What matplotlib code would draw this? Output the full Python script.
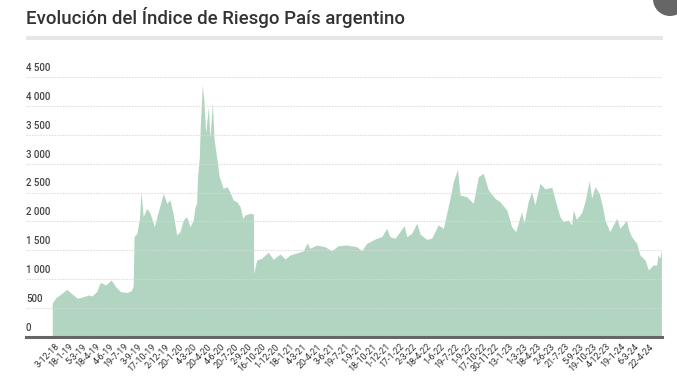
import datetime as dt

import matplotlib
matplotlib.use("Agg")
import matplotlib.dates as mdates
import matplotlib.pyplot as plt
from matplotlib.patches import Ellipse, Rectangle

# Riesgo país (puntos básicos)
dates = [
    "2018-11-14", "2018-11-26", "2018-12-12", "2019-01-01", "2019-01-15", "2019-02-05",
    "2019-02-20", "2019-03-15", "2019-03-25", "2019-04-10", "2019-04-22", "2019-05-10",
    "2019-05-28", "2019-06-12", "2019-06-28", "2019-07-20", "2019-08-02", "2019-08-09",
    "2019-08-12", "2019-08-21", "2019-08-30", "2019-09-04", "2019-09-11", "2019-09-23",
    "2019-10-04", "2019-10-18", "2019-10-31", "2019-11-17", "2019-11-28", "2019-12-09",
    "2019-12-20", "2019-12-31", "2020-01-11", "2020-01-22", "2020-02-02", "2020-02-13",
    "2020-02-24", "2020-03-01", "2020-03-06", "2020-03-09", "2020-03-15", "2020-03-18",
    "2020-03-25", "2020-03-30", "2020-04-05", "2020-04-14", "2020-04-19", "2020-04-27",
    "2020-05-03", "2020-05-11", "2020-05-20", "2020-06-02", "2020-06-14", "2020-06-24",
    "2020-07-05", "2020-07-17", "2020-07-28", "2020-08-06", "2020-08-13", "2020-08-30",
    "2020-09-10", "2020-09-11", "2020-09-21", "2020-10-07", "2020-10-29", "2020-11-15",
    "2020-12-07", "2020-12-24", "2021-01-09", "2021-01-31", "2021-02-22", "2021-03-07",
    "2021-03-16", "2021-04-08", "2021-05-05", "2021-05-27", "2021-06-18", "2021-07-16",
    "2021-08-18", "2021-09-04", "2021-09-20", "2021-10-23", "2021-11-09", "2021-11-25",
    "2021-12-06", "2021-12-23", "2022-01-08", "2022-01-22", "2022-01-31", "2022-02-16",
    "2022-03-05", "2022-03-16", "2022-04-07", "2022-04-23", "2022-05-04", "2022-05-15",
    "2022-06-01", "2022-06-17", "2022-06-23", "2022-07-04", "2022-07-18", "2022-07-26",
    "2022-08-17", "2022-09-08", "2022-09-25", "2022-10-11", "2022-10-28", "2022-11-19",
    "2022-12-05", "2022-12-28", "2023-01-13", "2023-01-27", "2023-02-15", "2023-02-23",
    "2023-03-09", "2023-03-20", "2023-03-31", "2023-04-17", "2023-05-03", "2023-05-26",
    "2023-06-06", "2023-06-22", "2023-07-03", "2023-07-20", "2023-07-31", "2023-08-05",
    "2023-08-16", "2023-09-02", "2023-09-13", "2023-09-27", "2023-10-05", "2023-10-16",
    "2023-10-30", "2023-11-10", "2023-11-18", "2023-12-04", "2023-12-27", "2024-01-07",
    "2024-01-29", "2024-02-03", "2024-02-14", "2024-03-02", "2024-03-13", "2024-03-30",
    "2024-04-10", "2024-04-26", "2024-05-07", "2024-05-12", "2024-05-18", "2024-05-23",
]
values = [
    588, 680, 740, 826, 760, 670,
    690, 727, 710, 785, 946, 900,
    987, 871, 785, 770, 800, 883,
    1737, 1795, 2050, 2516, 2082, 2227,
    2141, 1909, 2169, 2488, 2314, 2372,
    2112, 1766, 1823, 2025, 2082, 1909,
    2025, 2255, 2314, 2775, 3121, 3640,
    4362, 4103, 3526, 3987, 3439, 4045,
    3410, 3121, 2775, 2574, 2602, 2515,
    2372, 2342, 2256, 2055, 2112, 2141,
    2129, 1103, 1333, 1362, 1468, 1345,
    1437, 1350, 1419, 1455, 1490, 1628,
    1535, 1592, 1563, 1494, 1581, 1592,
    1563, 1494, 1622, 1708, 1737, 1881,
    1737, 1708, 1823, 1927, 1737, 1795,
    1968, 1780, 1691, 1708, 1823, 1939,
    1881, 2256, 2400, 2689, 2902, 2458,
    2429, 2314, 2775, 2833, 2545, 2400,
    2342, 2198, 1909, 1823, 2169, 1968,
    2342, 2515, 2285, 2660, 2565, 2591,
    2372, 2082, 1996, 2025, 1939, 2198,
    2037, 2152, 2342, 2706, 2400, 2602,
    2487, 2256, 2025, 1823, 2054, 1881,
    2025, 1881, 1737, 1622, 1419, 1333,
    1160, 1246, 1246, 1419, 1362, 1506,
]

tick_labels = [
    "3-12-18", "18-1-19", "5-3-19", "18-4-19", "4-6-19", "19-7-19", "3-9-19",
    "17-10-19", "2-12-19", "20-1-20", "4-3-20", "20-4-20", "4-6-20", "20-7-20",
    "2-9-20", "16-10-20", "1-12-20", "18-1-21", "4-3-21", "20-4-21", "3-6-21",
    "19-7-21", "1-9-21", "18-10-21", "1-12-21", "17-1-22", "2-3-22", "18-4-22",
    "1-6-22", "19-7-22", "1-9-22", "17-10-22", "30-11-22", "13-1-23", "1-3-23",
    "18-4-23", "2-6-23", "21-7-23", "5-9-23", "19-10-23", "4-12-23", "19-1-24",
    "6-3-24", "22-4-24",
]
y_ticks = [0, 500, 1000, 1500, 2000, 2500, 3000, 3500, 4000, 4500]

TITLE = "Evolución del Índice de Riesgo País argentino"
FILL = "#b1d5c0"
TEXT = "#333333"

W, H = 677, 388
plt.rcParams["font.family"] = ["Roboto", "DejaVu Sans"]

fig = plt.figure(figsize=(W / 100, H / 100), dpi=100)
fig.patch.set_facecolor("white")

# plot area in pixels: left 26, right 662, top 77 (4 500), bottom 337 (0)
ax = fig.add_axes([26 / W, (H - 337) / H, (662 - 26) / W, (337 - 77) / H])

x = [dt.datetime.strptime(d, "%Y-%m-%d") for d in dates]
ticks = [dt.datetime.strptime(t, "%d-%m-%y") for t in tick_labels]

ax.fill_between(x, values, 0, color=FILL, lw=0, zorder=1)

# escala: ~0.302 px por día, 3-12-18 en x=58
origin = dt.datetime(2018, 12, 3)
px_day = 0.302
ax.set_xlim(
    mdates.date2num(origin + dt.timedelta(days=(26 - 58) / px_day)),
    mdates.date2num(origin + dt.timedelta(days=(662 - 58) / px_day)),
)
ax.set_ylim(0, 4500)

for v in y_ticks[1:]:
    ax.axhline(v, color="#d9d9d9", lw=0.8, ls=(0, (1.5, 1)), alpha=0.8, zorder=2)
ax.axhline(0, color="#666666", lw=2.2, zorder=3, clip_on=False)

for v in y_ticks:
    label = f"{v:,}".replace(",", " ")
    ax.annotate(label, xy=(0, v), xycoords=ax.get_yaxis_transform(),
                xytext=(0, 3), textcoords="offset points",
                ha="left", va="bottom", fontsize=7, color="#444444",
                fontweight="medium")

ax.set_xticks(ticks)
ax.set_xticklabels(tick_labels, rotation=45, ha="right", va="center",
                   rotation_mode="anchor", fontsize=6.5, color=TEXT)
ax.tick_params(axis="x", length=0, pad=6)
ax.set_yticks([])
for s in ax.spines.values():
    s.set_visible(False)

fig.text(26 / W, 1 - 18 / H, TITLE, ha="left", va="center",
         fontsize=13.4, color=TEXT, fontweight="medium")
fig.patches.append(Rectangle((26 / W, 1 - 40 / H), (663 - 26) / W, 4 / H,
                             transform=fig.transFigure, color="#e6e6e6", lw=0))
fig.patches.append(Ellipse((670 / W, 1 + 1 / H), 34 / W, 34 / H,
                           transform=fig.transFigure, color="#666666", lw=0))

fig.savefig("out.png", dpi=100)
